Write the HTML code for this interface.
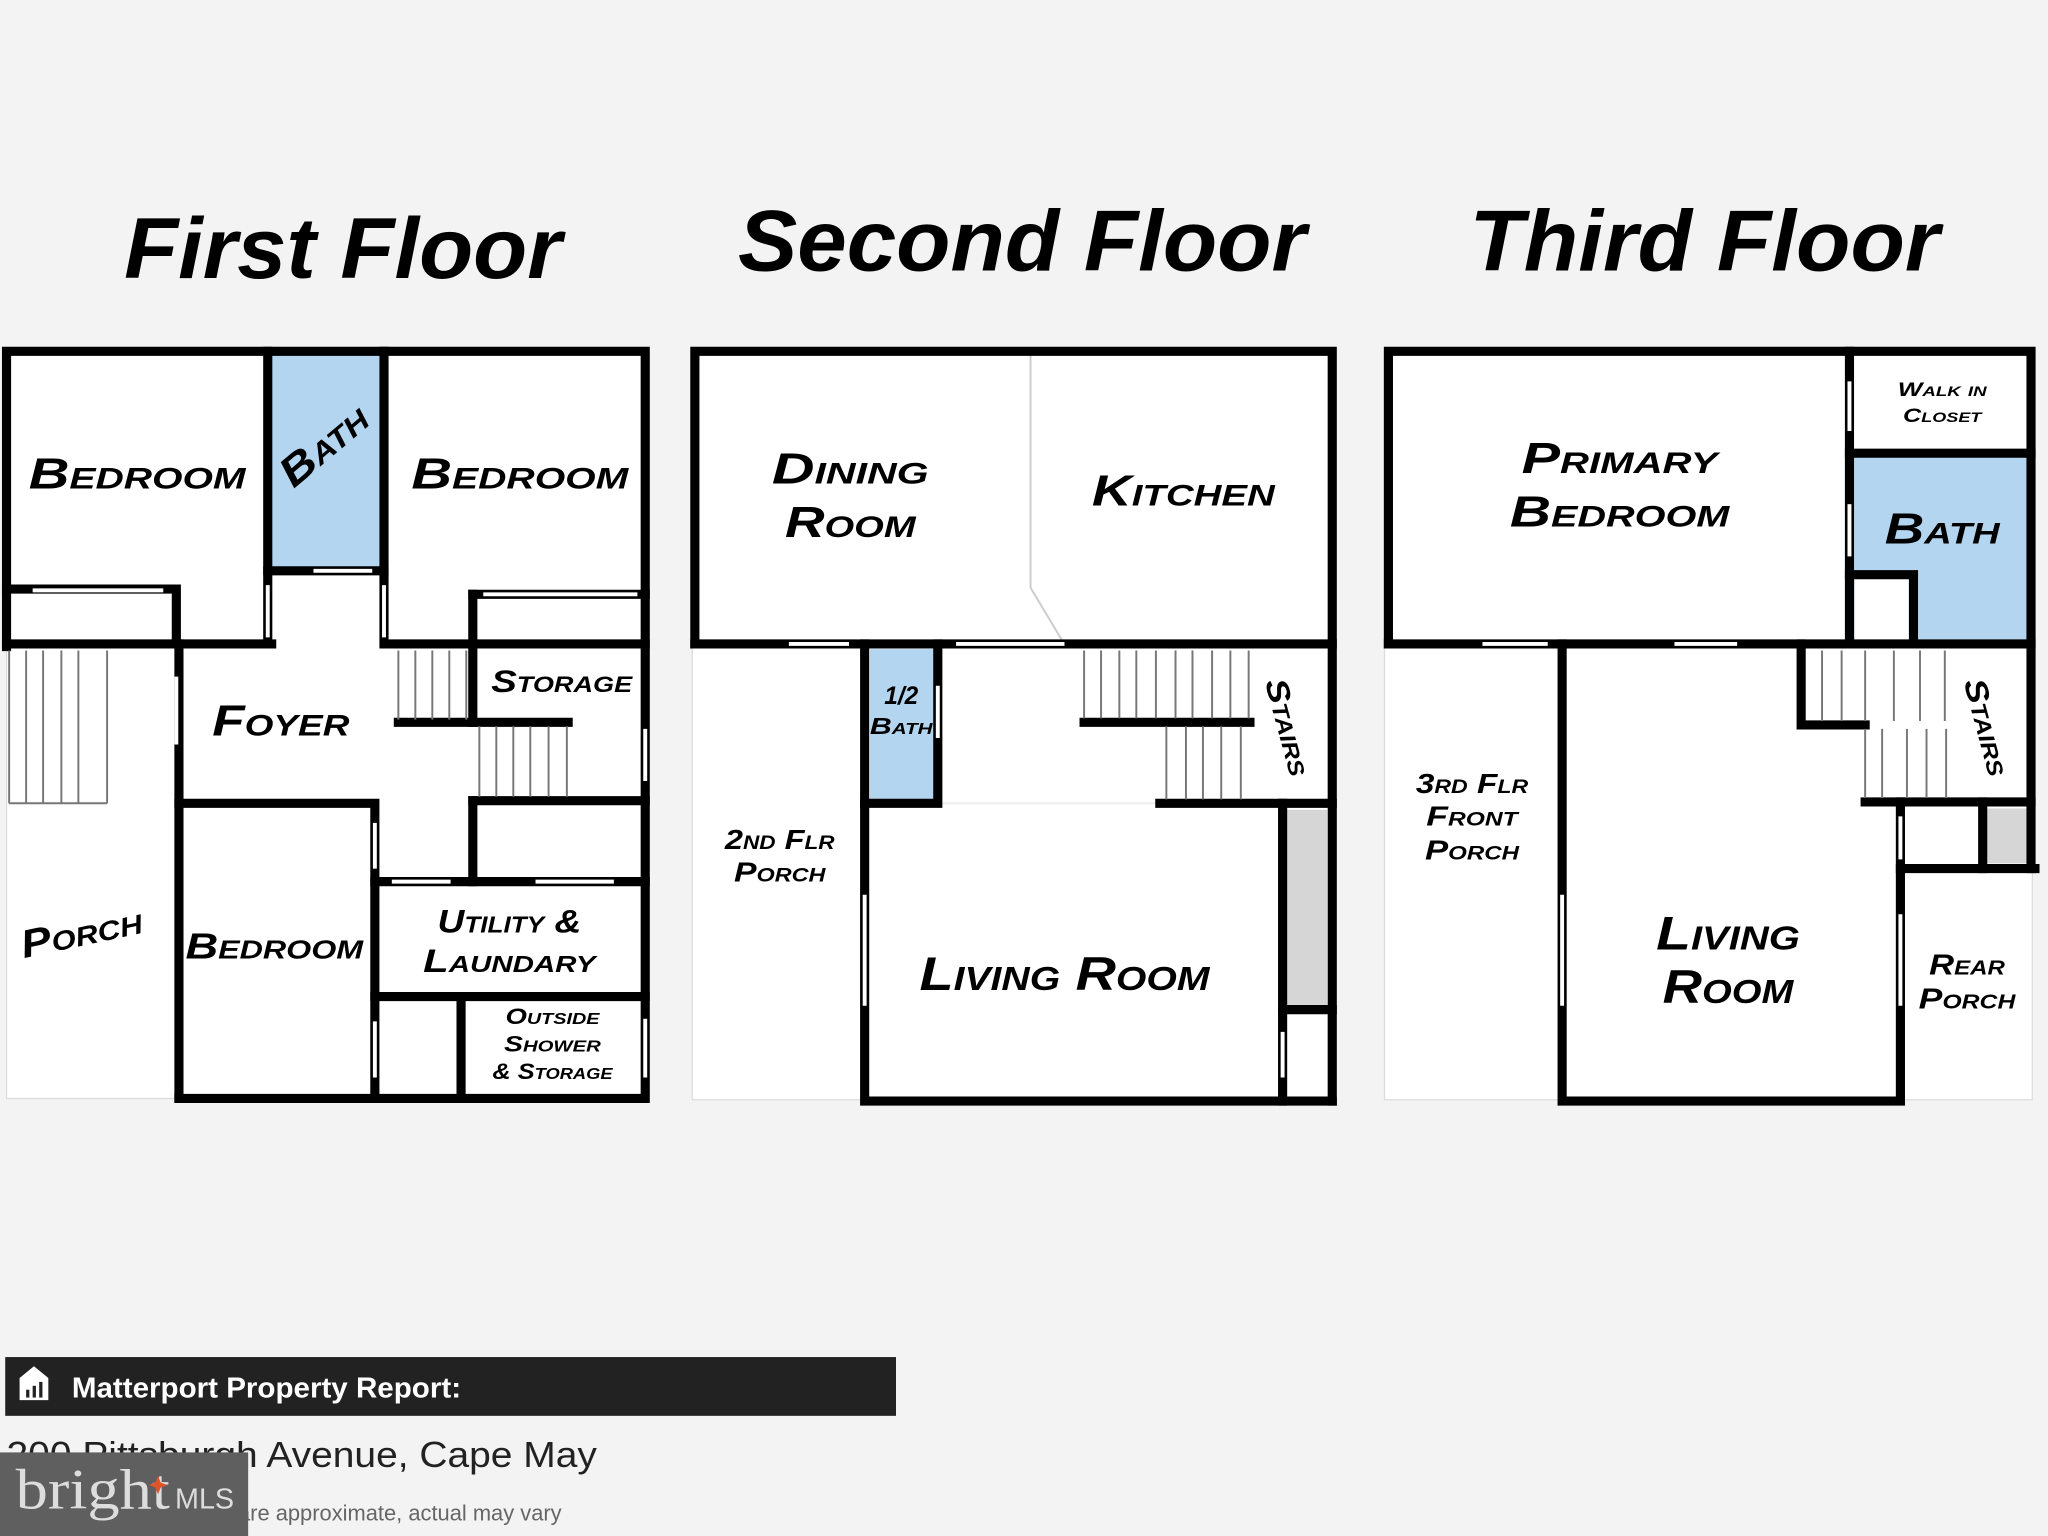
<!DOCTYPE html>
<html><head><meta charset="utf-8"><style>
html,body{margin:0;padding:0;background:#f3f3f3;}
svg{display:block}
.t{font-family:"Liberation Sans",sans-serif;font-weight:bold;font-style:italic;fill:#000}
.r{font-family:"Liberation Sans",sans-serif;font-weight:bold;font-style:italic;font-variant:small-caps;fill:#000;text-anchor:middle}
.w{stroke:#000;stroke-width:7;stroke-linecap:square;fill:none}
.g{stroke:#fff;stroke-width:3;fill:none}
.s{stroke:#777;stroke-width:1.5}
</style></head><body>
<svg width="2048" height="1536" viewBox="0 0 1568 1176" xmlns="http://www.w3.org/2000/svg">
<rect width="1568" height="1176" fill="#f3f3f3"/>
<!-- Titles -->
<text class="t" x="95" y="213" font-size="66" textLength="335" lengthAdjust="spacingAndGlyphs">First Floor</text>
<text class="t" x="565" y="207" font-size="66" textLength="435" lengthAdjust="spacingAndGlyphs">Second Floor</text>
<text class="t" x="1125" y="207" font-size="66" textLength="360" lengthAdjust="spacingAndGlyphs">Third Floor</text>

<!-- ===== FIRST FLOOR ===== -->
<rect x="5" y="268" width="490" height="573" fill="#fff" stroke="#ddd" stroke-width="1"/>
<rect x="208" y="271" width="84" height="166" fill="#b3d5f0"/>
<g class="w">
<path d="M5 495 V269 H494 V841 H137"/>
<path d="M5 493 H208"/><path d="M5 451 H135 V493"/>
<path d="M205 269 V493"/><path d="M294 269 V493 H494"/>
<path d="M205 437 H294"/>
<path d="M362 455 H494"/><path d="M362 455 V493"/>
<path d="M362 493 V553"/><path d="M305 553 H435"/>
<path d="M137 493 V841"/><path d="M137 615 H287 V841"/>
<path d="M362 613 H494"/><path d="M362 613 V675"/>
<path d="M287 675 H494"/><path d="M287 763 H494"/><path d="M353 763 V841"/>
</g>
<g class="g">
<path d="M25 452 H125"/><path d="M240 437 H285"/><path d="M135 518 V570"/>
<path d="M205 448 V488"/><path d="M294 448 V488"/><path d="M370 455 H488"/>
<path d="M494 558 V598"/><path d="M300 675 H345"/><path d="M410 675 H470"/>
<path d="M287 630 V665"/><path d="M287 782 V825"/><path d="M494 780 V825"/>
</g>
<g class="s">
<path d="M7 615 H82"/><path d="M7 498 V615"/><path d="M20 498 V615"/><path d="M33 498 V615"/><path d="M47 498 V615"/><path d="M60 498 V615"/><path d="M82 498 V615"/>
<path d="M305 498 V551"/><path d="M318 498 V551"/><path d="M331 498 V551"/><path d="M344 498 V551"/><path d="M357 498 V551"/>
<path d="M367 556 V610"/><path d="M380 556 V610"/><path d="M393 556 V610"/><path d="M406 556 V610"/><path d="M420 556 V610"/><path d="M434 556 V610"/>
</g>
<text class="r" x="105" y="374" font-size="33" textLength="166" lengthAdjust="spacingAndGlyphs">Bedroom</text>
<text class="r" x="247" y="352" font-size="32" transform="rotate(-40 247 340)" textLength="78" lengthAdjust="spacingAndGlyphs">Bath</text>
<text class="r" x="398" y="374" font-size="33" textLength="166" lengthAdjust="spacingAndGlyphs">Bedroom</text>
<text class="r" x="215" y="563" font-size="33" textLength="105" lengthAdjust="spacingAndGlyphs">Foyer</text>
<text class="r" x="430" y="530" font-size="24" textLength="108" lengthAdjust="spacingAndGlyphs">Storage</text>
<text class="r" x="62" y="724" font-size="30" transform="rotate(-12 62 713)" textLength="94" lengthAdjust="spacingAndGlyphs">Porch</text>
<text class="r" x="210" y="734" font-size="28" textLength="136" lengthAdjust="spacingAndGlyphs">Bedroom</text>
<text class="r" x="390" y="714" font-size="25" textLength="110" lengthAdjust="spacingAndGlyphs">Utility &amp;</text>
<text class="r" x="390" y="744" font-size="25" textLength="132" lengthAdjust="spacingAndGlyphs">Laundary</text>
<text class="r" x="423" y="784" font-size="17" textLength="72" lengthAdjust="spacingAndGlyphs">Outside</text>
<text class="r" x="423" y="805" font-size="17" textLength="74" lengthAdjust="spacingAndGlyphs">Shower</text>
<text class="r" x="423" y="826" font-size="17" textLength="92" lengthAdjust="spacingAndGlyphs">&amp; Storage</text>

<!-- ===== SECOND FLOOR ===== -->
<rect x="530" y="269" width="492" height="573" fill="#fff" stroke="#ddd" stroke-width="1"/>
<rect x="666" y="497" width="50" height="116" fill="#b3d5f0"/>
<rect x="985" y="620" width="31" height="150" fill="#d6d6d6"/>
<path d="M789 272 V450 L813 490" stroke="#ccc" stroke-width="1.5" fill="none"/>
<path d="M720 615 H888" stroke="#eee" stroke-width="1.5"/>
<g class="w">
<path d="M532 493 V269 H1020 V843"/>
<path d="M532 493 H1020"/>
<path d="M662 493 V843 H1020"/>
<path d="M718 493 V615 H662"/>
<path d="M830 553 H957"/>
<path d="M888 615 H1020"/>
<path d="M982 615 V843"/><path d="M982 773 H1020"/>
</g>
<g class="g">
<path d="M604 493 H650"/><path d="M732 493 H815"/><path d="M718 525 V565"/>
<path d="M662 685 V770"/><path d="M982 790 V825"/>
</g>
<g class="s">
<path d="M830 498 V550"/><path d="M843 498 V550"/><path d="M857 498 V550"/><path d="M870 498 V550"/><path d="M885 498 V550"/><path d="M900 498 V550"/><path d="M913 498 V550"/><path d="M928 498 V550"/><path d="M942 498 V550"/><path d="M956 498 V550"/>
<path d="M893 556 V612"/><path d="M908 556 V612"/><path d="M921 556 V612"/><path d="M935 556 V612"/><path d="M950 556 V612"/>
</g>
<text class="r" x="651" y="370" font-size="33" textLength="120" lengthAdjust="spacingAndGlyphs">Dining</text>
<text class="r" x="651" y="411" font-size="33" textLength="100" lengthAdjust="spacingAndGlyphs">Room</text>
<text class="r" x="906" y="387" font-size="33" textLength="140" lengthAdjust="spacingAndGlyphs">Kitchen</text>
<text class="r" x="690" y="539" font-size="19" textLength="26" lengthAdjust="spacingAndGlyphs">1/2</text>
<text class="r" x="690" y="562" font-size="18" textLength="48" lengthAdjust="spacingAndGlyphs">Bath</text>
<text class="r" x="985" y="564" font-size="24" transform="rotate(75 985 557)" textLength="76" lengthAdjust="spacingAndGlyphs">Stairs</text>
<text class="r" x="597" y="650" font-size="21" textLength="84" lengthAdjust="spacingAndGlyphs">2nd Flr</text>
<text class="r" x="597" y="675" font-size="21" textLength="70" lengthAdjust="spacingAndGlyphs">Porch</text>
<text class="r" x="815" y="758" font-size="36" textLength="222" lengthAdjust="spacingAndGlyphs">Living Room</text>

<!-- ===== THIRD FLOOR ===== -->
<rect x="1060" y="269" width="496" height="573" fill="#fff" stroke="#ddd" stroke-width="1"/>
<rect x="1419" y="350" width="134" height="141" fill="#b3d5f0"/>
<rect x="1420" y="443" width="44" height="48" fill="#fff"/>
<rect x="1521" y="619" width="31" height="42" fill="#d6d6d6"/>
<g class="w">
<path d="M1063 493 V269 H1555 V665"/>
<path d="M1063 493 H1555"/>
<path d="M1416 269 V493"/><path d="M1416 347 H1555"/>
<path d="M1416 440 H1465 V493"/>
<path d="M1196 493 V843 H1455 V614"/>
<path d="M1379 493 V555 H1428"/>
<path d="M1428 614 H1555"/>
<path d="M1455 665 H1558"/><path d="M1518 614 V665"/>
</g>
<g class="g">
<path d="M1135 493 H1185"/><path d="M1282 493 H1330"/>
<path d="M1416 292 V330"/><path d="M1416 386 V426"/>
<path d="M1196 685 V770"/><path d="M1455 625 V658"/><path d="M1455 700 V770"/>
</g>
<g class="s">
<path d="M1395 498 V552"/><path d="M1410 498 V552"/><path d="M1428 498 V552"/><path d="M1450 498 V552"/><path d="M1470 498 V552"/><path d="M1489 498 V552"/>
<path d="M1428 558 V611"/><path d="M1441 558 V611"/><path d="M1460 558 V611"/><path d="M1475 558 V611"/><path d="M1490 558 V611"/>
</g>
<text class="r" x="1240" y="362" font-size="33" textLength="150" lengthAdjust="spacingAndGlyphs">Primary</text>
<text class="r" x="1240" y="403" font-size="33" textLength="168" lengthAdjust="spacingAndGlyphs">Bedroom</text>
<text class="r" x="1487" y="303" font-size="15" textLength="68" lengthAdjust="spacingAndGlyphs">Walk in</text>
<text class="r" x="1487" y="323" font-size="15" textLength="60" lengthAdjust="spacingAndGlyphs">Closet</text>
<text class="r" x="1487" y="416" font-size="33" textLength="88" lengthAdjust="spacingAndGlyphs">Bath</text>
<text class="r" x="1520" y="564" font-size="24" transform="rotate(75 1520 557)" textLength="76" lengthAdjust="spacingAndGlyphs">Stairs</text>
<text class="r" x="1127" y="607" font-size="21" textLength="86" lengthAdjust="spacingAndGlyphs">3rd Flr</text>
<text class="r" x="1127" y="632" font-size="21" textLength="70" lengthAdjust="spacingAndGlyphs">Front</text>
<text class="r" x="1127" y="658" font-size="21" textLength="72" lengthAdjust="spacingAndGlyphs">Porch</text>
<text class="r" x="1323" y="727" font-size="36" textLength="110" lengthAdjust="spacingAndGlyphs">Living</text>
<text class="r" x="1323" y="768" font-size="36" textLength="100" lengthAdjust="spacingAndGlyphs">Room</text>
<text class="r" x="1506" y="746" font-size="22" textLength="58" lengthAdjust="spacingAndGlyphs">Rear</text>
<text class="r" x="1506" y="772" font-size="22" textLength="74" lengthAdjust="spacingAndGlyphs">Porch</text>

<!-- ===== FOOTER ===== -->
<rect x="4" y="1039" width="682" height="45" fill="#222"/>
<path d="M15 1055 L26 1046 L37 1055 V1072 H15 Z" fill="#fff"/>
<rect x="20" y="1064" width="2.5" height="6" fill="#222"/><rect x="25" y="1061" width="2.5" height="9" fill="#222"/><rect x="30" y="1058" width="2.5" height="12" fill="#222"/>
<text x="55" y="1070" font-family="Liberation Sans,sans-serif" font-weight="bold" font-size="22" fill="#fff" textLength="298" lengthAdjust="spacingAndGlyphs">Matterport Property Report:</text>
<text x="5" y="1123" font-family="Liberation Sans,sans-serif" font-size="28" fill="#222" textLength="452" lengthAdjust="spacingAndGlyphs">200 Pittsburgh Avenue, Cape May</text>
<text x="90" y="1164" font-family="Liberation Sans,sans-serif" font-size="17" fill="#666" textLength="340" lengthAdjust="spacingAndGlyphs">Dimensions are approximate, actual may vary</text>
<rect x="0" y="1112" width="190" height="64" fill="#5f5f5f"/>
<text x="12" y="1155" font-family="Liberation Serif,serif" font-size="44" fill="#ddd" textLength="118" lengthAdjust="spacingAndGlyphs">bright</text>
<path d="M121 1130 l2 5 l5 2 l-5 2 l-2 5 l-2 -5 l-5 -2 l5 -2 z" fill="#e0542a"/>
<text x="134" y="1155" font-family="Liberation Sans,sans-serif" font-size="22" fill="#ddd">MLS</text>
</svg>
</body></html>
